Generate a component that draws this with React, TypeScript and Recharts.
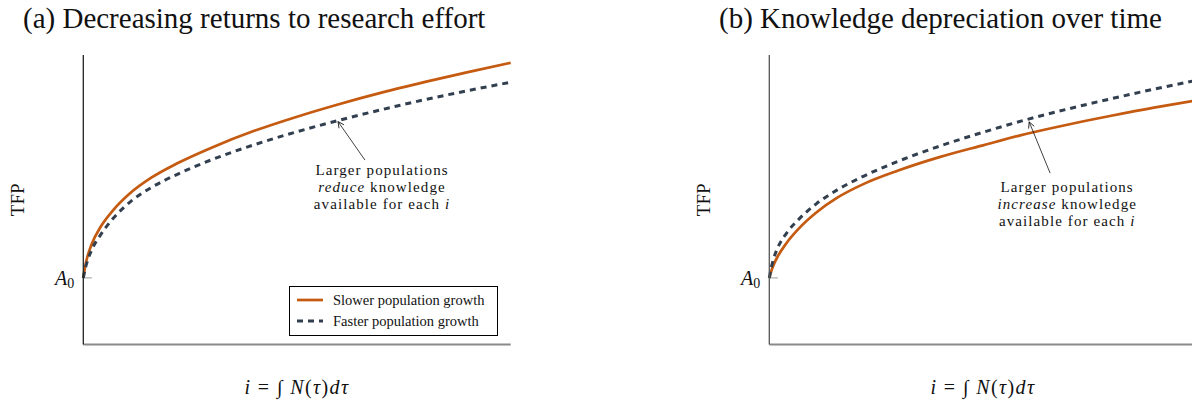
import React from 'react'
import { LineChart, Line, XAxis, YAxis, ReferenceLine, ReferenceDot, Legend } from 'recharts'

const FONT = '"Liberation Serif", "Times New Roman", serif'
const ORANGE = '#c55a11'
const SLATE = '#323f4f'
const DASH = '6 5'

// starting level of TFP on the y axis
const A0 = 23

// panel (a): decreasing returns to research effort
const A_X = [0, 0.5, 1, 2, 4, 7, 11, 16, 22, 30, 40, 50, 60, 70, 80, 90, 100]
const A_SLOWER = [23, 27.5, 30.5, 34.8, 40.5, 46.4, 52.3, 57.7, 62.6, 68.0, 73.8, 78.7, 83.1, 87.1, 90.7, 94.1, 97.3]
const A_FASTER = [23, 26.5, 29, 32.8, 37.8, 43.6, 49.3, 54.3, 58.8, 63.8, 69.0, 73.5, 77.5, 81.2, 84.6, 87.7, 90.6]

// panel (b): knowledge depreciation over time
const B_X = [0, 0.5, 1, 2, 4, 7, 11, 16, 22, 30, 40, 50, 60, 70, 80, 90, 100]
const B_SLOWER = [23, 25.5, 27.5, 30.5, 35.0, 40.2, 45.6, 50.8, 55.4, 60.0, 64.8, 68.8, 72.7, 76.0, 79.0, 81.8, 84.3]
const B_FASTER = [23, 26.8, 29.6, 33.5, 38.4, 43.4, 48.6, 53.5, 58.1, 63.2, 68.6, 73.3, 77.6, 81.4, 84.9, 88.2, 91.3]

const SERIES = [
  { key: 'slower', name: 'Slower population growth', color: ORANGE, width: 2.7, dash: undefined },
  { key: 'faster', name: 'Faster population growth', color: SLATE, width: 3, dash: DASH },
]

const toRows = (xs: number[], slower: number[], faster: number[]) =>
  xs.map((x, i) => ({ x, slower: slower[i], faster: faster[i] }))

const dataA = toRows(A_X, A_SLOWER, A_FASTER)
const dataB = toRows(B_X, B_SLOWER, B_FASTER)

const A0Tick = (props: any) => {
  const { x, y } = props
  return (
    <text x={x - 1} y={y + 7} textAnchor="end" fontFamily={FONT} fontSize={20} fill="#111">
      <tspan fontStyle="italic">A</tspan>
      <tspan fontSize={14} dy={3}>0</tspan>
    </text>
  )
}

const XLabel = (props: any) => {
  const vb = props.viewBox
  const cx = vb.x + vb.width / 2
  return (
    <text x={cx} y={vb.y + 49.5} textAnchor="middle" fontFamily={FONT} fontSize={20} fill="#111" letterSpacing={1.4}>
      <tspan fontStyle="italic">i</tspan>
      <tspan> = </tspan>
      <tspan>∫ </tspan>
      <tspan fontStyle="italic">N</tspan>
      <tspan>(</tspan>
      <tspan fontStyle="italic">τ</tspan>
      <tspan>)</tspan>
      <tspan fontStyle="italic">dτ</tspan>
    </text>
  )
}

const YLabel = (props: any) => {
  const vb = props.viewBox
  const tx = vb.x - 6
  const ty = vb.y + vb.height / 2
  return (
    <text
      x={tx}
      y={ty}
      textAnchor="middle"
      dominantBaseline="central"
      transform={`rotate(-90, ${tx}, ${ty})`}
      fontFamily={FONT}
      fontSize={19}
      fill="#111"
    >
      TFP
    </text>
  )
}

const note = (verb: string) => (p: any) => (
  <g fontFamily={FONT} fontSize={15} fill="#111" textAnchor="middle" letterSpacing={1.1}>
    <text x={p.cx} y={p.cy}>Larger populations</text>
    <text x={p.cx} y={p.cy + 17.2}>
      <tspan fontStyle="italic">{verb}</tspan> knowledge
    </text>
    <text x={p.cx} y={p.cy + 34.4}>
      available for each <tspan fontStyle="italic">i</tspan>
    </text>
  </g>
)

const arrow = (id: string) => (p: any) => (
  <line x1={p.x1} y1={p.y1} x2={p.x2} y2={p.y2} stroke="#111" strokeWidth={0.8} markerEnd={`url(#${id})`} />
)

const renderLegend = () => (
  <div
    style={{
      border: '1px solid #000',
      background: '#fff',
      boxSizing: 'border-box',
      width: 209,
      height: 50,
      padding: '2.5px 7.5px',
      fontFamily: FONT,
      fontSize: 14.5,
      color: '#111',
    }}
  >
    {SERIES.map((s) => (
      <div key={s.key} style={{ display: 'flex', alignItems: 'center', height: 21 }}>
        <svg width={26} height={6} style={{ flex: 'none' }}>
          <line x1={0} y1={3} x2={26} y2={3} stroke={s.color} strokeWidth={s.width} strokeDasharray={s.dash} />
        </svg>
        <span style={{ marginLeft: 10, whiteSpace: 'nowrap' }}>{s.name}</span>
      </div>
    ))}
  </div>
)

interface PanelProps {
  data: { x: number; slower: number; faster: number }[]
  axisColor: string
  verb: string
  notePos: { x: number; y: number }
  arrowFrom: { x: number; y: number }
  arrowTo: { x: number; y: number }
  markerId: string
  showLegend: boolean
}

function Panel({ data, axisColor, verb, notePos, arrowFrom, arrowTo, markerId, showLegend }: PanelProps) {
  return (
    <LineChart width={600} height={404} data={data} margin={{ top: 55, right: 89.3, bottom: 9.5, left: 23.3 }}>
      <defs>
        <marker id={markerId} viewBox="0 0 8 8" refX={7} refY={4} markerWidth={8} markerHeight={8} orient="auto" markerUnits="userSpaceOnUse">
          <path d="M1,1 L7,4 L1,7" fill="none" stroke="#111" strokeWidth={0.8} />
        </marker>
      </defs>
      <XAxis
        type="number"
        dataKey="x"
        domain={[0, 100]}
        tick={false}
        tickLine={false}
        height={50}
        axisLine={{ stroke: '#8a8a8a', strokeWidth: 2 }}
        label={{ content: XLabel }}
      />
      <YAxis
        type="number"
        domain={[0, 100]}
        ticks={[A0]}
        tick={A0Tick}
        tickLine={false}
        width={60}
        axisLine={{ stroke: axisColor, strokeWidth: 1.3 }}
        label={{ content: YLabel }}
      />
      <ReferenceLine
        segment={[{ x: 0, y: A0 }, { x: 2, y: A0 }]}
        stroke="#9a9a9a"
        strokeWidth={1}
      />
      {SERIES.map((s) => (
        <Line
          key={s.key}
          type="monotone"
          dataKey={s.key}
          name={s.name}
          stroke={s.color}
          strokeWidth={s.width}
          strokeDasharray={s.dash}
          dot={false}
          activeDot={false}
          isAnimationActive={false}
        />
      ))}
      <ReferenceLine
        segment={[arrowFrom, arrowTo]}
        shape={arrow(markerId)}
      />
      <ReferenceDot x={notePos.x} y={notePos.y} r={0} shape={note(verb)} />
      {showLegend && (
        <Legend
          layout="vertical"
          align="center"
          verticalAlign="middle"
          content={renderLegend}
          wrapperStyle={{ left: 288.5, top: 286, width: 209, height: 50 }}
        />
      )}
    </LineChart>
  )
}

export default function App() {
  return (
    <div
      style={{
        position: 'fixed',
        left: 0,
        top: 0,
        width: 1192,
        height: 404,
        overflow: 'hidden',
        background: '#fff',
      }}
    >
      <svg width={1192} height={40} style={{ position: 'absolute', left: 0, top: 0 }}>
        <text x={23} y={28} fontFamily={FONT} fontSize={29} fill="#111">
          (a) Decreasing returns to research effort
        </text>
        <text x={719} y={28} fontFamily={FONT} fontSize={29} fill="#111">
          (b) Knowledge depreciation over time
        </text>
      </svg>
      <div style={{ position: 'absolute', left: 0, top: 0 }}>
        <Panel
          data={dataA}
          axisColor="#222"
          verb="reduce"
          notePos={{ x: 69.9, y: 58.7 }}
          arrowFrom={{ x: 65.9, y: 63.7 }}
          arrowTo={{ x: 59.6, y: 77.0 }}
          markerId="arrowA"
          showLegend
        />
      </div>
      <div style={{ position: 'absolute', left: 686, top: 0 }}>
        <Panel
          data={dataB}
          axisColor="#555"
          verb="increase"
          notePos={{ x: 69.7, y: 52.7 }}
          arrowFrom={{ x: 65.7, y: 59.2 }}
          arrowTo={{ x: 60.8, y: 76.9 }}
          markerId="arrowB"
          showLegend={false}
        />
      </div>
    </div>
  )
}
